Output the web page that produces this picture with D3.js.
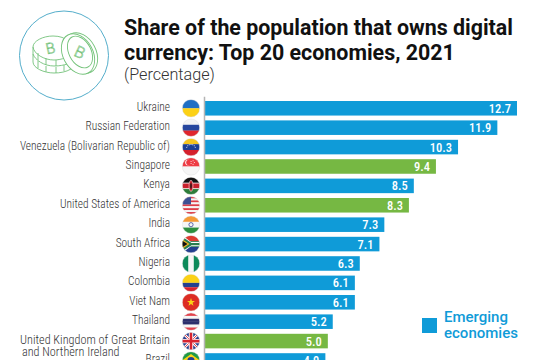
<!DOCTYPE html>
<html>
<head>
<meta charset="utf-8">
<script src="https://cdn.jsdelivr.net/npm/d3@7"></script>
<style>
  html, body { margin: 0; background: #fff; overflow: hidden; }
  svg { display: block; font-family: Roboto, sans-serif; }
  .title { font-size: 21.4px; font-weight: 700; fill: #111; }
  .subtitle { font-size: 16.2px; font-weight: 300; fill: #333; }
  .y-axis .domain { stroke: #b5b5b5; stroke-width: 1.5; }
  .y-axis text { font-family: Roboto, sans-serif; font-size: 12.6px; font-weight: 300; fill: #333; font-stretch: condensed; }
  .value { font-size: 12.5px; font-weight: 500; fill: #fff; text-anchor: end; font-stretch: condensed; }
  .legend-text { font-size: 15px; font-weight: 500; }
</style>
</head>
<body>
<svg width="537" height="360"></svg>
<script>
const w = 537, h = 360;

const economies = ["Ukraine", "Russian Federation", "Venezuela (Bolivarian Republic of)", "Singapore", "Kenya",
  "United States of America", "India", "South Africa", "Nigeria", "Colombia", "Viet Nam", "Thailand",
  "United Kingdom of Great Britain|and Northern Ireland", "Brazil"];
const shares = [12.7, 11.9, 10.3, 9.4, 8.5, 8.3, 7.3, 7.1, 6.3, 6.1, 6.1, 5.2, 5.0, 4.9];
const groups = ["Emerging", "Emerging", "Emerging", "Developed", "Emerging", "Developed", "Emerging", "Emerging",
  "Emerging", "Emerging", "Emerging", "Emerging", "Developed", "Emerging"];
const legendGroups = ["Emerging", "Developed"];

const blue = "#0f9bd8", green = "#76b843";
const colorScale = d3.scaleOrdinal(legendGroups, [blue, green]);

const xScale = d3.scaleLinear().domain([0, 12.7]).range([205, 517]);
const yScale = d3.scaleBand().domain(economies).range([96.15, 372.6]).padding(0.25);

const flagR = 8.7, flagX = 191;
const labelSquash = 0.905, twoLineSquash = 0.97;

const svg = d3.select("svg");

function stripes(g, colors) {
  const n = colors.length, s = 2 * flagR / n;
  colors.forEach((c, i) => g.append("rect").attr("x", -flagR).attr("width", 2 * flagR)
    .attr("y", -flagR + i * s).attr("height", s + 0.2).style("fill", c));
}
function star(g, r, fill, cx = 0, cy = 0) {
  const pts = d3.range(10).map(i => {
    const a = -Math.PI / 2 + i * Math.PI / 5, q = i % 2 ? r * 0.4 : r;
    return [cx + q * Math.cos(a), cy + q * Math.sin(a)];
  });
  g.append("polygon").attr("points", pts.join(" ")).style("fill", fill);
}

const flagDrawers = [
  g => stripes(g, ["#1f6fc4", "#fcd116"]),
  g => stripes(g, ["#f4f4f4", "#27479e", "#e0262e"]),
  g => {
    stripes(g, ["#f7c51e", "#1c3f94", "#d5202c"]);
    d3.range(7).forEach(i => g.append("circle").attr("r", 0.5)
      .attr("cx", 4.6 * Math.cos(Math.PI * (1 + (i + 1) / 8))).attr("cy", 2 + 4.6 * Math.sin(Math.PI * (1 + (i + 1) / 8)))
      .style("fill", "#fff"));
  },
  g => {
    stripes(g, ["#ee3a43", "#f6f6f6"]);
    g.append("circle").attr("cx", -3).attr("cy", -4).attr("r", 2.8).style("fill", "#fff");
    g.append("circle").attr("cx", -2).attr("cy", -4).attr("r", 2.8).style("fill", "#ee3a43");
    d3.range(5).forEach(i => g.append("circle").attr("r", 0.5)
      .attr("cx", 1.5 + 1.8 * Math.cos(i * 1.257)).attr("cy", -4 + 1.8 * Math.sin(i * 1.257)).style("fill", "#fff"));
  },
  g => {
    stripes(g, ["#111", "#c8202c", "#2e7d3a"]);
    g.append("rect").attr("x", -flagR).attr("y", -3.2).attr("width", 2 * flagR).attr("height", 0.8).style("fill", "#fff");
    g.append("rect").attr("x", -flagR).attr("y", 2.4).attr("width", 2 * flagR).attr("height", 0.8).style("fill", "#fff");
    g.append("ellipse").attr("rx", 2).attr("ry", 5.6).style("fill", "#c8202c").style("stroke", "#fff").style("stroke-width", 0.5);
    g.append("ellipse").attr("rx", 0.7).attr("ry", 3).style("fill", "#111");
  },
  g => {
    d3.range(9).forEach(i => g.append("rect").attr("x", -flagR).attr("width", 2 * flagR)
      .attr("y", -flagR + i * 2 * flagR / 9).attr("height", flagR / 4.5 + 0.1)
      .style("fill", i % 2 ? "#f5f5f5" : "#dd3d48"));
    g.append("rect").attr("x", -flagR).attr("y", -flagR).attr("width", flagR).attr("height", flagR * 0.9).style("fill", "#3c4f94");
  },
  g => {
    stripes(g, ["#f59a34", "#f6f6f6", "#2c8f3f"]);
    g.append("circle").attr("r", 2.1).style("fill", "none").style("stroke", "#23348c").style("stroke-width", 0.7);
  },
  g => {
    stripes(g, ["#de3a31", "#2a7d4f", "#23408f"]);
    g.append("path").attr("d", "M-9,-9L0,-2.2H9V2.2H0L-9,9Z").style("fill", "#fff");
    g.append("path").attr("d", "M-9,-7.5L0.5,-1.2H9V1.2H0.5L-9,7.5Z").style("fill", "#2a7d4f");
    g.append("path").attr("d", "M-9,-5L-1.5,0L-9,5Z").style("fill", "#f4b820");
    g.append("path").attr("d", "M-9,-3.5L-3.5,0L-9,3.5Z").style("fill", "#111");
  },
  g => {
    g.append("rect").attr("x", -flagR).attr("y", -flagR).attr("width", 2 * flagR).attr("height", 2 * flagR).style("fill", "#f6f6f6");
    g.append("rect").attr("x", -flagR).attr("y", -flagR).attr("width", flagR * 0.68).attr("height", 2 * flagR).style("fill", "#0d8a5a");
    g.append("rect").attr("x", flagR * 0.32).attr("y", -flagR).attr("width", flagR * 0.68).attr("height", 2 * flagR).style("fill", "#0d8a5a");
  },
  g => {
    g.append("rect").attr("x", -flagR).attr("y", -flagR).attr("width", 2 * flagR).attr("height", flagR).style("fill", "#fbd116");
    g.append("rect").attr("x", -flagR).attr("y", 0).attr("width", 2 * flagR).attr("height", flagR / 2).style("fill", "#24408f");
    g.append("rect").attr("x", -flagR).attr("y", flagR / 2).attr("width", 2 * flagR).attr("height", flagR / 2).style("fill", "#d8232f");
  },
  g => {
    g.append("rect").attr("x", -flagR).attr("y", -flagR).attr("width", 2 * flagR).attr("height", 2 * flagR).style("fill", "#dd2c23");
    star(g, 4.2, "#fbd116");
  },
  g => {
    stripes(g, ["#e2424c", "#f6f6f6", "#2d2f6c", "#2d2f6c", "#f6f6f6", "#e2424c"]);
  },
  g => {
    g.append("rect").attr("x", -flagR).attr("y", -flagR).attr("width", 2 * flagR).attr("height", 2 * flagR).style("fill", "#2b3f8c");
    g.append("path").attr("d", "M-9,-9L9,9M9,-9L-9,9").style("stroke", "#fff").style("stroke-width", 2.6);
    g.append("path").attr("d", "M-9,-9L9,9M9,-9L-9,9").style("stroke", "#d8232f").style("stroke-width", 0.9);
    g.append("path").attr("d", "M0,-9V9M-9,0H9").style("stroke", "#fff").style("stroke-width", 4.4);
    g.append("path").attr("d", "M0,-9V9M-9,0H9").style("stroke", "#d8232f").style("stroke-width", 2.6);
  },
  g => {
    g.append("rect").attr("x", -flagR).attr("y", -flagR).attr("width", 2 * flagR).attr("height", 2 * flagR).style("fill", "#1f9a46");
    g.append("path").attr("d", "M-9,0L0,-6.5L9,0L0,6.5Z").style("fill", "#fbd116");
    g.append("circle").attr("r", 3.6).style("fill", "#23408f");
  }
];

// title
svg.append("text").attr("class", "title").attr("x", 124).attr("y", 35).text("Share of the population that owns digital");
svg.append("text").attr("class", "title").attr("x", 124).attr("y", 60).text("currency: Top 20 economies, 2021");
svg.append("text").attr("class", "subtitle").attr("x", 124).attr("y", 80).text("(Percentage)");

drawIcon();

// bars
svg.selectAll("rect.bar")
  .data(economies)
  .join("rect").attr("class", "bar")
  .attr("x", xScale(0))
  .attr("y", d => yScale(d))
  .attr("width", (d, i) => xScale(shares[i]) - xScale(0))
  .attr("height", yScale.bandwidth())
  .style("fill", (d, i) => colorScale(groups[i]));

svg.selectAll("text.value")
  .data(economies)
  .join("text").attr("class", "value")
  .attr("x", (d, i) => xScale(shares[i]) - 6)
  .attr("y", d => yScale(d) + yScale.bandwidth() / 2 + 4.5)
  .text((d, i) => shares[i].toFixed(1));

// axis with the country names, squashed a bit because the original face is narrower
const yAxis = d3.axisLeft(yScale).tickSize(0).tickPadding(34);
const yG = svg.append("g").attr("class", "y-axis")
  .attr("transform", `translate(${xScale(0) - 1}, 0)`)
  .call(yAxis);

yG.selectAll(".tick text")
  .attr("dy", "0.2em")
  .each(function(d) {
    const parts = d.split("|");
    const k = parts.length > 1 ? twoLineSquash : labelSquash;
    const t = d3.select(this).text(parts[0])
      .attr("x", -34 / k)
      .attr("transform", `scale(${k}, 1)`);
    if (parts.length > 1) {
      t.append("tspan").attr("x", -34 / k).attr("dy", "1em").attr("dx", -52).text(parts[1]);
    }
  });

// flags
const defs = svg.append("defs");
defs.append("clipPath").attr("id", "flag-clip").append("circle").attr("r", flagR);

const flagG = svg.selectAll("g.flag")
  .data(economies)
  .join("g").attr("class", "flag")
  .attr("transform", d => `translate(${flagX}, ${yScale(d) + yScale.bandwidth() / 2})`);

flagG.each(function(d, i) {
  const g = d3.select(this).append("g").attr("clip-path", "url(#flag-clip)");
  flagDrawers[i](g);
});
flagG.append("circle").attr("r", flagR).style("fill", "none").style("stroke", "#d8d8d8").style("stroke-width", 0.4);

// legend
const legend = svg.selectAll("g.item")
  .data(legendGroups)
  .join("g").attr("class", "item")
  .attr("transform", (d, i) => `translate(422, ${318 + i * 51})`);
legend.append("rect").attr("width", 15).attr("height", 15).style("fill", d => colorScale(d));
legend.append("text").attr("class", "legend-text").attr("x", 22).attr("y", 4).style("fill", d => colorScale(d)).text(d => d);
legend.append("text").attr("class", "legend-text").attr("x", 22).attr("y", 20).style("fill", d => colorScale(d)).text("economies");

function drawIcon() {
  const icon = svg.append("g").attr("class", "icon").style("fill", "none");
  icon.append("circle").attr("cx", 64).attr("cy", 55.5).attr("r", 44.5)
    .style("stroke", "#55aecb").style("stroke-width", 1);
  const c = icon.append("g").style("stroke", "#74c27a").style("stroke-width", 0.9);
  // stack of coins, lying flat
  c.append("path").attr("d", "M33,47 V62 C33,68 44,73 54,73 C60,73 66,72 71,69");
  c.append("path").attr("d", "M33,54 C35,60 44,66 54,66 C60,66 64,65 67,64");
  c.append("path").attr("d", "M33,47 C33,41 43,36 53,36 C60,36 65,38 68,41");
  c.append("path").attr("d", "M33,47 C34,54 44,60 54,60 C58,60 62,59 65,58");
  c.append("path").attr("d", "M38,53V60M46,58V65M38,61V68M46,66V72M56,60V66M56,67V73M64,65V71");
  c.append("text").attr("x", 47).attr("y", 54).attr("transform", "rotate(-12 48 54)")
    .style("font-size", "15px").style("font-weight", 300).style("fill", "none").style("font-family", "Roboto")
    .style("stroke", "#74c27a").style("stroke-width", 0.6).text("B");
  // coin standing on its side
  c.append("ellipse").attr("cx", 81).attr("cy", 53).attr("rx", 15).attr("ry", 21.5)
    .attr("transform", "rotate(-28 81 53)").style("fill", "#fff");
  c.append("ellipse").attr("cx", 78).attr("cy", 54).attr("rx", 15).attr("ry", 21.5)
    .attr("transform", "rotate(-28 78 54)").style("fill", "#fff");
  c.append("ellipse").attr("cx", 80).attr("cy", 52).attr("rx", 11).attr("ry", 17)
    .attr("transform", "rotate(-28 80 52)");
  c.append("text").attr("x", 75).attr("y", 58).attr("transform", "rotate(25 80 52)")
    .style("font-size", "16px").style("font-weight", 300).style("fill", "none").style("font-family", "Roboto")
    .style("stroke", "#74c27a").style("stroke-width", 0.6).text("B");
}
</script>
</body>
</html>
